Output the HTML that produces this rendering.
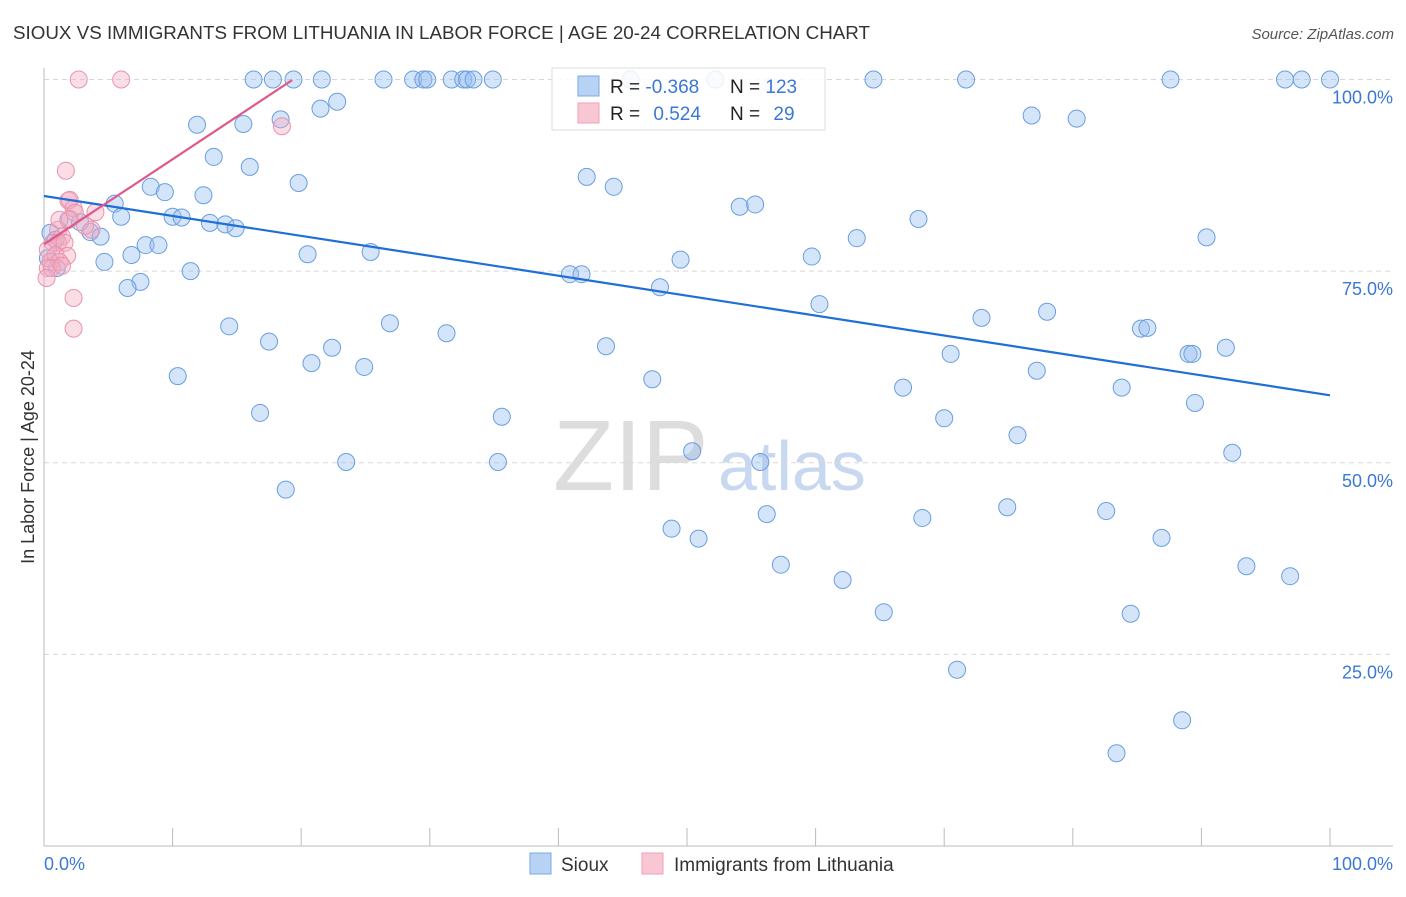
<!DOCTYPE html>
<html><head><meta charset="utf-8">
<style>
body{margin:0;background:#fff;font-family:"Liberation Sans",sans-serif;}
svg text{font-family:"Liberation Sans",sans-serif;}
</style></head>
<body>
<svg id="chart" width="1406" height="892" xmlns="http://www.w3.org/2000/svg">
<text x="13" y="39" font-size="18" fill="#333" textLength="857" lengthAdjust="spacingAndGlyphs">SIOUX VS IMMIGRANTS FROM LITHUANIA IN LABOR FORCE | AGE 20-24 CORRELATION CHART</text>
<text x="1394" y="39" font-size="15" fill="#555" text-anchor="end" font-style="italic">Source: ZipAtlas.com</text>
<g>
<text x="553" y="490" font-size="100" fill="#ddd" font-family="Liberation Serif,serif">ZIP</text>
<text x="718" y="490" font-size="70" fill="#c8d8f0">atlas</text>
</g>
<g id="grid"></g>
<g id="axes"></g>
<g id="pts"></g>
<g id="lines"></g>
<text transform="translate(34,457) rotate(-90)" font-size="18" fill="#333" text-anchor="middle">In Labor Force | Age 20-24</text>
<text x="44" y="870" font-size="18" fill="#3a78d8">0.0%</text>
<text x="1393" y="870" font-size="18" fill="#3a78d8" text-anchor="end">100.0%</text>
<g>
<rect x="552" y="68" width="273" height="62" fill="#fff" fill-opacity="0.85" stroke="#ddd"/>
<rect x="578" y="76" width="21" height="20" fill="#b8d2f4" stroke="#7aa8e6"/>
<rect x="578" y="103" width="21" height="20" fill="#f9c6d4" stroke="#eea0b8"/>
<text x="610" y="93" font-size="19" fill="#222">R = <tspan fill="#3a78d8">-0.368</tspan></text>
<text x="730" y="93" font-size="19" fill="#222">N = <tspan fill="#3a78d8">123</tspan></text>
<text x="610" y="120" font-size="19" fill="#222">R = <tspan fill="#3a78d8" dx="8">0.524</tspan></text>
<text x="730" y="120" font-size="19" fill="#222">N = <tspan fill="#3a78d8" dx="8">29</tspan></text>
</g>
<g>
<rect x="530" y="853" width="21" height="21" fill="#b8d2f4" stroke="#7aa8e6"/>
<text x="561" y="871" font-size="19" fill="#333">Sioux</text>
<rect x="642" y="853" width="21" height="21" fill="#f9c6d4" stroke="#eea0b8"/>
<text x="674" y="871" font-size="19" fill="#333">Immigrants from Lithuania</text>
</g>
</svg>
<script>
const yTicks=[25,50,75,100];
const yTickLabels=["25.0%","50.0%","75.0%","100.0%"];
const siouxX=[16.3,17.8,19.4,21.6,26.4,28.7,29.5,29.8,31.7,32.6,32.9,33.4,34.9,45.6,52.2,64.5,71.7,87.6,96.5,97.8,100,
22.8,21.5,18.4,11.9,15.5,76.8,80.3,13.2,16.0,19.8,8.3,9.4,12.4,42.2,44.3,5.5,6.0,10.0,10.7,12.9,14.1,14.9,54.1,55.3,68.0,
3.6,4.4,7.9,8.9,6.8,4.7,20.5,25.4,63.2,90.4,11.4,7.5,6.5,40.9,41.8,49.5,59.7,47.9,60.3,72.9,78.0,14.4,26.9,31.3,85.3,85.8,
17.5,22.4,43.7,70.5,89.0,89.3,91.9,20.8,24.9,10.4,47.3,77.2,66.8,83.8,89.5,16.8,35.6,70.0,75.7,92.4,50.4,23.5,35.3,55.7,
18.8,74.9,82.6,56.2,68.3,48.8,50.9,86.9,57.3,93.5,96.9,62.1,65.3,84.5,71.0,88.5,83.4,0.5,0.9,1.9,2.8,1.0,0.3];
const siouxY=[100,100,100,100,100,100,100,100,100,100,100,100,100,100,100,100,100,100,100,100,100,
97.1,96.2,94.8,94.1,94.2,95.3,94.9,89.9,88.6,86.5,86.0,85.3,84.9,87.3,86.0,83.8,82.1,82.1,82.0,81.3,81.1,80.6,83.4,83.7,81.8,
80.1,79.5,78.4,78.4,77.1,76.2,77.2,77.5,79.3,79.4,75.0,73.6,72.8,74.6,74.6,76.5,76.9,72.9,70.7,68.9,69.7,67.8,68.2,66.9,67.5,67.6,
65.8,65.0,65.2,64.2,64.2,64.2,65.0,63.0,62.5,61.3,60.9,62.0,59.8,59.8,57.8,56.5,56.0,55.8,53.6,51.3,51.5,50.1,50.1,50.1,
46.5,44.2,43.7,43.3,42.8,41.4,40.1,40.2,36.7,36.5,35.2,34.7,30.5,30.3,23.0,16.4,12.1,80.0,79.1,81.7,81.4,75.4,76.7];
const lithX=[2.7,6.0,18.5,1.7,1.9,2.0,2.3,2.4,4.0,2.0,1.1,1.4,0.7,1.1,1.6,0.3,0.9,1.8,0.5,1.2,0.3,0.6,1.4,0.2,2.3,2.3,3.7,1.2,3.2];
const lithY=[100,100,93.9,88.1,84.2,84.3,83.2,82.6,82.7,81.8,80.4,79.5,78.7,78.7,78.7,77.8,77.1,77.0,76.2,76.2,75.4,75.4,75.7,74.1,71.5,67.5,80.4,81.7,80.9];
const siouxTrend=[84.8,58.8];
const lithTrend=[78.5,1.11,19.3];
const X0=44,X1=1330,Y0=846,Y100=79.5;
const sx=v=>X0+(X1-X0)*v/100, sy=v=>Y0-(Y0-Y100)*v/100;
const NS="http://www.w3.org/2000/svg";
function mk(t,a,p){const e=document.createElementNS(NS,t);for(const k in a)e.setAttribute(k,a[k]);p.appendChild(e);return e;}
const grid=document.getElementById('grid'),axes=document.getElementById('axes'),pts=document.getElementById('pts'),lines=document.getElementById('lines');
yTicks.forEach((t,i)=>{
const l=mk('line',{x1:X0,x2:1393,y1:sy(t),y2:sy(t),stroke:'#d8d8d8','stroke-dasharray':'5,4'},grid);


const tx=mk('text',{x:1393,y:sy(t)+24,'font-size':18,fill:'#3a78d8','text-anchor':'end'},grid);
tx.textContent=yTickLabels[i];


});
const ax=mk('line',{x1:X0,x2:1393,y1:Y0,y2:Y0,stroke:'#bbb'},axes);


const ay=mk('line',{x1:X0,x2:X0,y1:68,y2:Y0,stroke:'#bbb'},axes);


for(let k=0;k<=10;k++){
const t=mk('line',{x1:sx(k*10),x2:sx(k*10),y1:Y0,y2:Y0-18,stroke:'#bbb'},axes);


}
siouxX.forEach((v,i)=>{
const c=mk('circle',{cx:sx(v),cy:sy(siouxY[i]),r:8.5,fill:'rgba(150,190,240,0.4)',stroke:'#6a9ee0','stroke-width':1},pts);


});
lithX.forEach((v,i)=>{
const c=mk('circle',{cx:sx(v),cy:sy(lithY[i]),r:8.5,fill:'rgba(246,170,192,0.4)',stroke:'#e893ad','stroke-width':1},pts);


});
const bl=mk('line',{x1:sx(0),y1:sy(siouxTrend[0]),x2:sx(100),y2:sy(siouxTrend[1]),stroke:'#1f6fd6','stroke-width':2.2},lines);


const pl=mk('line',{x1:sx(0),y1:sy(lithTrend[0]),x2:sx(lithTrend[2]),y2:sy(lithTrend[0]+lithTrend[1]*lithTrend[2]),stroke:'#e0588a','stroke-width':2.2},lines);


</script>
</body></html>
